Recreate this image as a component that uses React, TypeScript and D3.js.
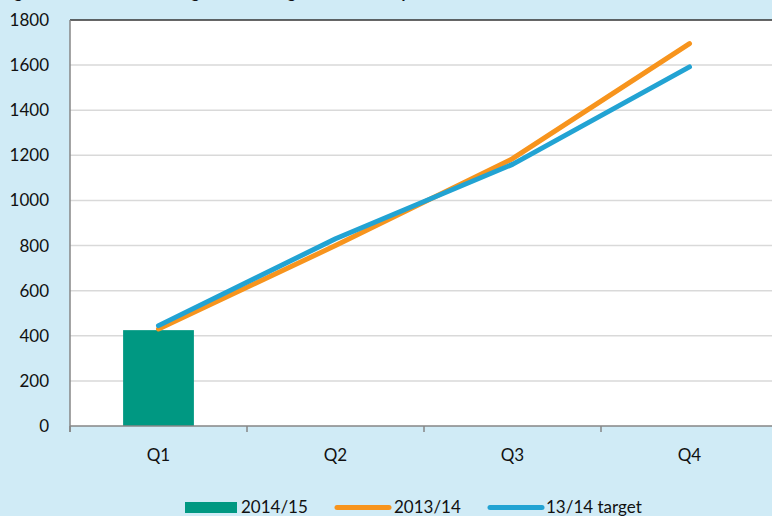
import React from "react";
import * as d3 from "d3";

const categories = ["Q1", "Q2", "Q3", "Q4"];
const bar201415 = [425];
const line201314 = [430, 800, 1185, 1695];
const lineTarget = [445, 830, 1160, 1592];
const yTicks = [0, 200, 400, 600, 800, 1000, 1200, 1400, 1600, 1800];
const legendLabels = ["2014/15", "2013/14", "13/14 target"];

const W = 772, H = 516;
const left = 70, right = 778, top = 20, bottom = 426;
const font = "Lato, 'Open Sans', sans-serif";

export default function App() {
  const x = d3.scaleBand<string>().domain(categories).range([left, right]).paddingInner(0).paddingOuter(0);
  const y = d3.scaleLinear().domain([0, 1800]).range([bottom, top]);
  const cx = (c: string) => (x(c) as number) + x.bandwidth() / 2;
  const line = d3.line<number>().x((_, i) => cx(categories[i])).y((d) => y(d));
  const barW = x.bandwidth() * 0.4;
  return (
    <svg width={W} height={H} style={{ position: "absolute", left: 0, top: 0, display: "block" }}>
      <rect x={0} y={0} width={W} height={H} fill="#D0EBF6" />
      <text x={0} y={-2} fontFamily={font} fontWeight="bold" fontSize={17} fill="#111">
        Figure 1 – Cumulative target and changes delivered by the Trust in 2014/15
      </text>
      <rect x={left} y={top} width={right - left} height={bottom - top} fill="#fff" />
      {yTicks.map((t) => (
        <g key={t}>
          {t > 0 && t < 1800 && <line x1={left} x2={right} y1={y(t)} y2={y(t)} stroke="#D9D9D9" strokeWidth={1.5} />}
          <text x={49} y={y(t)} dy="0.35em" textAnchor="end" fontFamily={font} fontSize={17} fill="#111">{t}</text>
        </g>
      ))}
      <line x1={left} x2={right} y1={top} y2={top} stroke="#333" strokeWidth={1.5} />
      {bar201415.map((v, i) => (
        <rect key={i} x={cx(categories[i]) - barW / 2} y={y(v)} width={barW} height={bottom - y(v)} fill="#009882" />
      ))}
      <path d={line(line201314) || ""} fill="none" stroke="#F7941D" strokeWidth={5} strokeLinecap="round" strokeLinejoin="round" />
      <path d={line(lineTarget) || ""} fill="none" stroke="#22A3D3" strokeWidth={5} strokeLinecap="round" strokeLinejoin="round" />
      <line x1={left} x2={left} y1={top} y2={bottom + 6} stroke="#868686" strokeWidth={1.5} />
      <line x1={left} x2={right} y1={bottom} y2={bottom} stroke="#868686" strokeWidth={1.5} />
      {categories.map((c) => (
        <g key={c}>
          <line x1={x(c) as number} x2={x(c) as number} y1={bottom} y2={bottom + 6} stroke="#868686" strokeWidth={1.5} />
          <text x={cx(c)} y={461} textAnchor="middle" fontFamily={font} fontSize={17} fill="#111">{c}</text>
        </g>
      ))}
      <rect x={185} y={502} width={52} height={11} fill="#009882" />
      <text x={241} y={513} fontFamily={font} fontSize={17} fill="#111">{legendLabels[0]}</text>
      <line x1={337} x2={389} y1={507.5} y2={507.5} stroke="#F7941D" strokeWidth={5} strokeLinecap="round" />
      <text x={394} y={513} fontFamily={font} fontSize={17} fill="#111">{legendLabels[1]}</text>
      <line x1={490} x2={542} y1={507.5} y2={507.5} stroke="#22A3D3" strokeWidth={5} strokeLinecap="round" />
      <text x={546} y={513} fontFamily={font} fontSize={17} fill="#111">{legendLabels[2]}</text>
    </svg>
  );
}
